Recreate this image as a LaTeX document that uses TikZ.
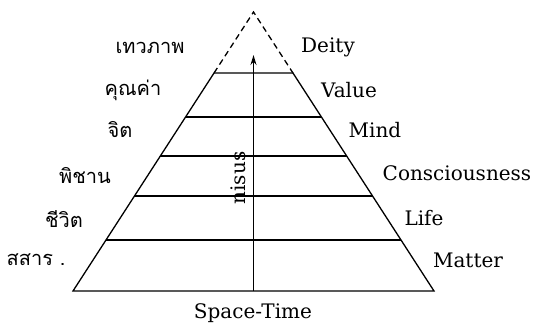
\documentclass[tikz,border=0pt]{standalone}
\usepackage{fontspec}
\setmainfont{DejaVu Serif}
\newfontfamily\thaifont[Script=Thai]{Loma}
\usetikzlibrary{calc,arrows.meta}
\begin{document}
\begin{tikzpicture}[x=1pt,y=-1pt,
  line width=1.3pt,
  en/.style={font=\fontsize{20}{24}\selectfont, inner sep=0pt},
  th/.style={font=\thaifont\fontsize{20}{24}\selectfont, inner sep=0pt},
  lvl/.style={line width=1.3pt}]
\useasboundingbox (0,0) rectangle (538,325);
\coordinate (A) at (253.5,12);
\coordinate (BL) at (73,291);
\coordinate (BR) at (434,291);
% level points
\foreach \n/\t in {1/0.2186,2/0.3763,3/0.5161,4/0.6595,5/0.8172}{
  \coordinate (L\n) at ($(A)!\t!(BL)$);
  \coordinate (R\n) at ($(A)!\t!(BR)$);
}
% dashed top
\draw[dash pattern=on 6pt off 4pt] (L1) -- (A) -- (R1);
% solid sides and bottom
\draw (L1) -- (BL) -- (BR) -- (R1) -- cycle;
\foreach \n in {2,3,4,5}{ \draw[lvl] (L\n) -- (R\n); }
% nisus arrow
\coordinate (nb) at (253.5,291);
\coordinate (nt) at (253.5,55);
\draw[-{Stealth[length=10pt,width=6pt]}] (nb) -- (nt);
\node[en, rotate=90] (nisus) at (238,178) {nisus};
% Thai labels
\node[th] (t1) at (150,48) {เทวภาพ};
\node[th] (t2) at (133,90) {คุณค่า};
\node[th] (t3) at (120,130) {จิต};
\node[th] (t4) at (85,176) {พิชาน};
\node[th] (t5) at (64,219) {ชีวิต};
\node[th] (t6) at (36,260) {สสาร .};
% English labels
\node[en] (e1) at (328,47) {Deity};
\node[en] (e2) at (349,90) {Value};
\node[en] (e3) at (375,130) {Mind};
\node[en] (e4) at (457,173) {Consciousness};
\node[en] (e5) at (424,218) {Life};
\node[en] (e6) at (468,260) {Matter};
\node[en] (st) at (253,313) {Space-Time};
\end{tikzpicture}
\end{document}
